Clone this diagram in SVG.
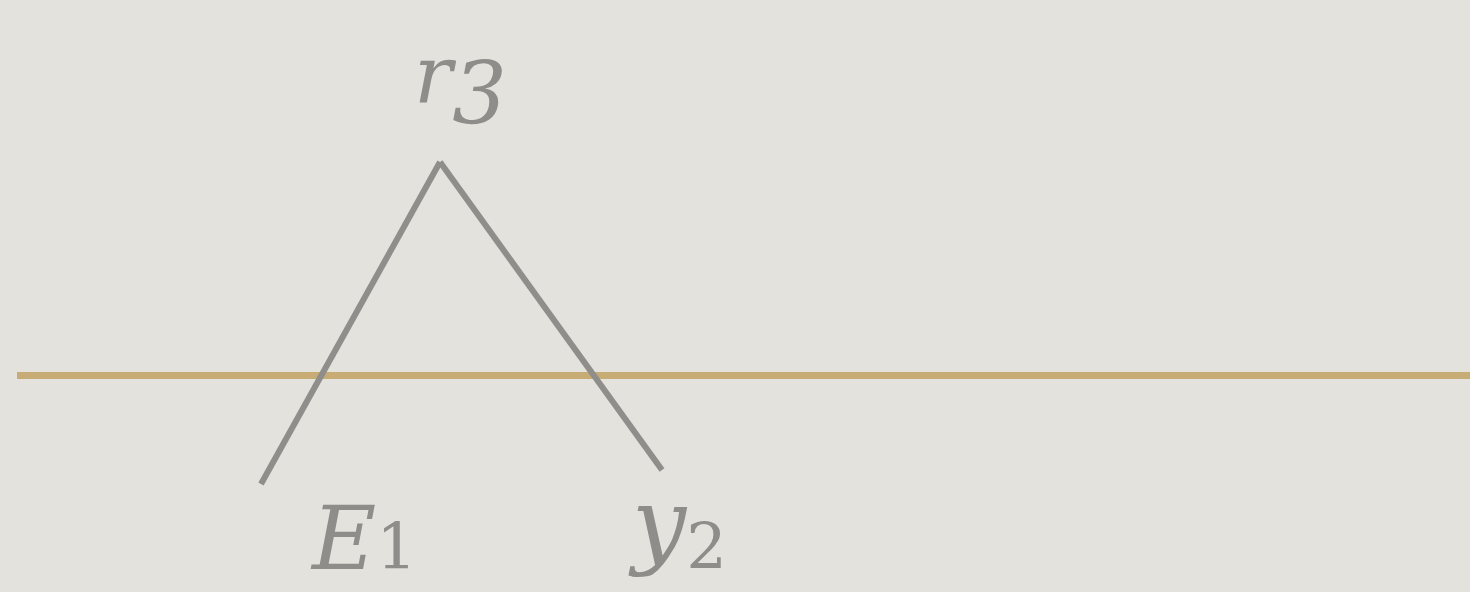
<svg xmlns="http://www.w3.org/2000/svg" width="1470" height="592" viewBox="0 0 1470 592">
<style>
text{font-family:'DejaVu Serif',serif;font-style:italic;fill:#8e8d89}
.edge{stroke:#8f8e8a;stroke-width:6;fill:none}
</style>
<rect width="1470" height="592" fill="#e4e2dc"/>
<g id="baseline"><line x1="17" y1="375.5" x2="1470" y2="375.5" stroke="#c8ac76" stroke-width="7"/></g>
<g id="connectors">
<line class="edge" x1="440" y1="162" x2="261" y2="484"/>
<line class="edge" x1="440" y1="162" x2="662" y2="470"/>
</g>
<g id="node-r3"><text x="414" y="103" font-size="80">r<tspan dy="20" font-size="86">3</tspan></text></g>
<g id="node-E1"><text x="312" y="569" font-size="88">E<tspan font-size="64" font-style="normal">1</tspan></text></g>
<g id="node-y2"><text x="632" y="556" font-size="96">y<tspan dy="13" font-size="64" font-style="normal">2</tspan></text></g>
</svg>
